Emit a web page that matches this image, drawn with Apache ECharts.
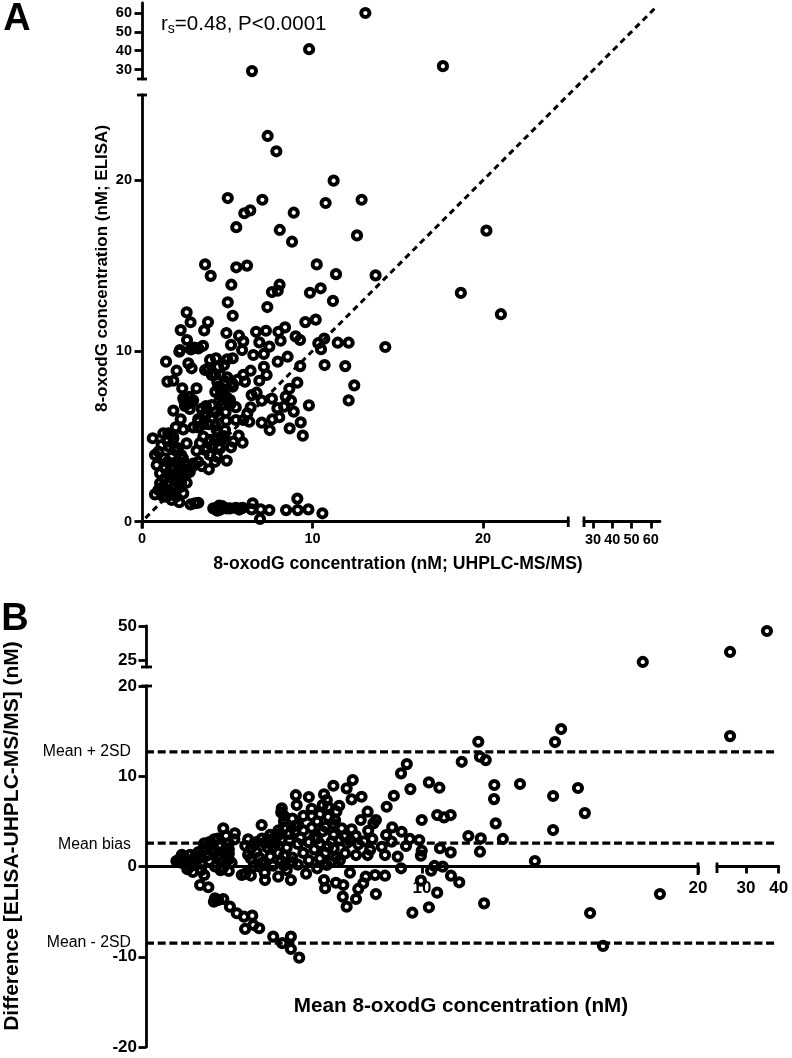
<!DOCTYPE html>
<html><head><meta charset="utf-8">
<style>html,body{margin:0;padding:0;background:#fff}#c{width:792px;height:1058px}</style>
<script src="https://cdn.jsdelivr.net/npm/echarts@6/dist/echarts.min.js"></script>
</head><body><div id="c"></div>
<script>
// Panel A: [UHPLC-MS/MS, ELISA] in nM
const pointsA = [
[7.37,22.6],[7.88,21.7],[11.24,19.98],[5.03,18.96],[7.06,18.86],[12.88,18.86],[10.77,18.67],[6.35,18.24],[6.0,18.07],[8.9,18.1],[5.53,17.25],[8.08,17.09],[12.61,16.77],[8.8,16.4],[3.7,15.07],[4.03,14.4],[5.53,14.9],[6.16,15.0],[10.25,15.07],[11.38,14.5],[13.7,14.43],[5.24,13.88],[8.07,13.88],[7.62,13.45],[7.96,13.53],[9.85,13.41],[10.48,13.67],[11.2,12.93],[5.03,12.85],[7.35,12.57],[5.32,12.06],[2.62,12.26],[2.85,11.68],[3.87,11.69],[2.27,11.22],[3.65,11.2],[4.95,11.05],[9.58,11.69],[10.19,11.83],[6.69,11.12],[7.27,11.18],[8.0,11.12],[8.39,11.38],[5.69,10.89],[2.64,10.64],[9.01,10.85],[9.27,10.64],[10.69,10.72],[11.48,10.48],[12.12,10.48],[14.27,10.23],[5.94,10.56],[6.88,10.5],[8.13,10.6],[3.58,10.3],[3.07,10.19],[2.23,10.05],[5.22,10.35],[7.47,10.25],[10.34,10.45],[10.5,10.1],
[5.87,10.05],[5.32,9.57],[6.53,9.76],[7.15,9.82],[7.96,9.37],[8.54,9.66],[9.28,9.11],[10.71,9.17],[11.92,9.11],[12.45,7.98],[12.12,7.1],[7.15,9.07],[6.37,8.84],[7.31,8.59],[4.81,9.17],[5.0,8.45],[5.94,8.59],[6.88,8.25],[9.11,8.14],[8.64,7.78],[5.32,7.9],[6.04,8.2],[6.43,7.41],[6.72,7.55],[7.02,7.08],[7.62,7.2],[8.43,7.32],[8.74,7.08],[5.16,7.12],[9.79,6.81],[7.94,6.64],[8.33,6.73],[8.9,6.44],[6.37,6.69],[6.18,6.34],[8.05,6.11],[7.64,5.99],[7.02,5.79],[9.31,5.81],[8.66,5.46],[7.49,5.36],[9.43,5.03],[6.29,5.85],[5.51,5.95],[4.93,5.91],[5.94,5.95],[5.67,5.03],[5.9,4.62],[5.22,4.35],[4.97,3.57],[5.35,4.68],[4.87,5.36],[4.67,4.78],
[5.16,0.77],[5.79,0.77],[6.49,1.07],[6.43,0.71],[6.96,0.71],[7.47,0.67],[6.92,0.15],[8.45,0.67],[9.11,1.34],[9.13,0.67],[9.76,0.71],[10.58,0.48],[3.11,1.07],[2.85,1.0],[3.3,1.1],[4.18,0.77],[4.53,0.93],[4.42,0.63],[4.97,0.77],[4.7,0.9],[4.3,0.75],[4.6,0.7],[4.8,0.8],[5.9,0.8],[5.7,0.7],[5.5,0.8],
[0.63,4.88],[1.41,9.37],[2.19,9.95],[2.87,10.09],[3.3,10.15],[2.72,9.27],[2.91,8.98],[2.03,8.84],[1.49,8.2],[1.84,8.25],[2.36,7.81],[3.2,7.81],[2.42,7.22],[2.72,6.93],[2.91,6.96],[2.52,6.77],[1.84,6.5],[2.27,5.99],[1.98,5.52],[2.42,5.4],[3.75,6.77],[4.09,6.83],[4.67,6.83],[4.97,7.28],[3.89,8.98],[3.99,9.47],[4.34,9.57],[3.7,8.88],[4.09,8.59],[4.47,9.07],[4.41,8.2],[4.67,7.71],[3.6,6.24],[3.3,5.85],[3.01,5.52],[3.3,5.52],[2.62,4.58],[3.2,4.15],[3.7,4.19],[3.99,4.78],[3.6,4.97],[4.38,5.36],[4.28,4.78],[4.67,4.78],[4.57,4.29],[3.99,3.9],[4.28,3.5],[3.5,3.25],[3.92,3.06],
[0.76,3.9],[0.96,4.09],[1.25,5.17],[1.54,5.17],[1.84,4.88],[1.15,4.48],[1.6,4.38],[0.86,3.31],[1.35,3.12],[1.06,2.83],[1.74,3.8],[2.03,3.5],[2.42,3.12],[2.91,3.18],[2.62,2.27],[2.42,1.65],[2.19,1.13],[1.74,1.26],[1.25,1.45],[0.76,1.59],[1.06,2.24],[1.54,2.24],[1.94,2.04],[2.23,2.63],[1.35,2.53],[1.74,2.73],[0.96,1.85],[1.45,1.45],[1.84,1.65],[2.0,1.45],[4.47,7.9],[4.3,7.6],[2.6,3.3],[2.3,3.9],[2.1,4.3],
[1.2,2.0],[1.5,2.8],[1.9,2.4],[2.2,2.0],[1.4,1.9],[1.7,3.2],[1.9,3.1],[2.2,3.3],[2.5,2.9],[2.8,2.9],[1.3,3.7],[1.5,3.5],[1.9,4.2],[2.4,3.7],[1.3,1.8],[1.6,1.7],[2.0,2.6],[2.3,2.3],[1.8,5.1],[1.5,4.7],[3.0,3.4],[3.3,3.5],
[2.6,7.1],[2.8,7.3],[2.5,7.0],[2.8,6.6],[3.0,7.1],[3.6,5.7],[3.3,6.0],[3.8,6.3],[4.1,6.1],[3.9,5.7],[4.3,6.4],[3.5,6.6],[4.5,6.2],[4.3,5.6],[4.5,4.4],[4.1,4.4],[3.8,4.3],[3.4,4.6],[4.8,5.0],[4.4,3.8],[4.6,8.6],[4.9,8.2],[4.3,8.6],[5.0,9.5],[4.8,7.5],[4.6,7.4],[4.5,7.0],[4.9,6.4],[5.2,6.9],[5.5,6.7],[5.6,8.3],[5.3,8.1],
[18.7,13.4],[20.2,17.05],[21.05,12.15]
];
const pointsAUpper = [[6.45,29.2],[9.8,40.8],[13.1,60],[17.65,31.8]];
const identityA = [[0.2,0.2],[30.2,30.2]];
const ticksAY = [0,10,20], ticksAYUpper = [30,40,50,60], ticksAX = [0,10,20], ticksAXRight = [30,40,50,60];

// Panel B: [mean, difference] in nM
const pointsB = [
[12.04,13.82],[11.44,11.6],[12.1,12.16],[12.31,11.79],[9.45,11.35],[9.24,10.32],[10.25,9.32],[10.63,8.73],[9.58,8.58],[12.62,9.03],[12.61,7.47],[12.67,4.78],[7.49,9.58],[6.79,8.95],[7.27,8.66],[7.81,7.73],[7.45,7.44],[8.98,7.84],[8.72,6.62],[7.0,6.73],[6.55,7.36],[8.03,6.07],[10.55,5.7],[10.8,5.45],[11.04,5.7],[9.99,5.15],[7.78,5.15],[8.33,5.15],[8.24,4.78],[6.85,5.15],[7.45,4.12],[8.05,3.96],[8.92,4.34],[9.26,3.85],[7.09,4.23],[8.7,3.49],[8.2,3.05],[8.9,2.75],[9.56,3.05],[9.9,2.93],[11.68,3.38],[12.13,3.12],[9.42,2.27],[10.65,2.02],[11.04,1.57],[12.1,1.64],[9.99,1.75],[9.96,1.2],[9.12,1.09],[8.66,1.27],[8.03,1.27],[7.61,1.27],[7.27,2.57],[7.69,2.46],[8.12,1.83],[8.54,2.19],[6.73,2.75],[7.03,0.72],[7.21,1.46],[6.55,0.17],[9.24,-0.2],[10.45,0.06],[10.75,-0.02],[10.33,-0.46],[11.05,-1.02],[11.35,-1.75],[7.39,-0.69],[8.66,-1.02],[8.3,-0.94],[7.96,-1.13],[7.87,-1.86],[6.45,-1.5],[6.88,-1.8],[6.49,-2.41],[7.15,-2.05],[7.69,-2.49],[7.13,-3.34],[7.61,-3.6],[7.27,-4.45],[8.33,-3.05],[9.96,-1.57],[10.55,-2.9],[10.25,-4.52],[9.65,-5.12],[12.25,-4.08],
[15.04,15.23],[14.82,13.79],[13.55,9.14],[15.65,8.7],[14.75,7.81],[15.9,5.92],[14.75,4.04],[12.93,3.05],[14.09,0.61],[16.09,-5.15],[16.56,-8.8],[18.62,-3.05],
[5.55,-10.1],[5.25,-9.14],[5.25,-7.77],[4.94,-8.5],[4.61,-7.77],[4.1,-6.84],[3.59,-6.92],[3.85,-5.45],[3.89,-6.48],[3.55,-5.56],[3.29,-5.18],[3.04,-4.45],[2.8,-3.6],[2.5,-3.52],[2.62,-3.71],[2.26,-2.3],[1.96,-2.05],[2.11,-0.94],[2.46,-3.9],
[2.8,4.23],[4.19,4.6],[5.52,4.6],[2.47,3.01],[4.92,6.44],[5.46,6.81],[4.31,-1.5],[5.25,-1.5],[4.79,-1.13],[3.47,-0.94],[1.23,0.72],[2.11,2.57],[3.22,3.68],
[1.1,0.6],[1.2,0.8],[1.3,0.4],[1.4,1.0],[1.5,0.5],[1.6,1.3],[1.7,0.2],[1.5,-0.3],[1.7,-0.6],[1.9,0.9],[1.9,1.6],[2.0,0.3],[2.0,-0.4],[2.1,2.1],[2.2,1.2],[2.3,0.6],[2.3,2.7],[2.5,1.7],[2.5,0.0],[2.6,3.1],[2.7,2.4],[2.7,0.9],[2.8,-0.1],[2.9,3.4],[3.0,2.6],[3.0,1.4],[3.1,0.4],[3.2,3.0],[3.0,1.9],[3.0,-0.5],[3.6,2.3],[3.7,3.0],[3.8,2.0],[3.8,0.9],[3.9,0.0],[4.0,2.7],[4.0,1.6],[4.2,3.1],[4.2,0.4],[4.3,-0.7],[4.4,2.1],[4.5,3.5],[4.5,1.1],[4.6,0.1],[4.7,2.6],[4.8,4.0],[4.8,1.5],[4.9,0.6],[4.9,3.0],[5.0,5.0],[5.1,2.1],[5.1,-0.4],[5.2,3.6],[5.3,1.0],[5.4,4.5],[5.5,2.5],[5.5,0.2],[5.6,3.2],[5.7,5.6],[5.7,1.5],[5.8,-0.8],[5.9,2.7],[5.9,0.7],[6.0,4.3],[6.0,6.4],[6.1,3.3],[6.1,1.9],[6.2,5.0],[6.2,-0.2],[6.3,2.5],[6.3,0.9],[6.4,6.8],[6.4,3.9],[6.5,1.5],[6.6,5.5],[6.6,2.2],[6.7,0.5],[6.8,3.5],[6.9,1.0],[6.9,6.1],[5.43,7.9],[5.9,7.7],[6.45,8.0],
[1.3,1.3],[1.6,0.0],[1.8,1.2],[2.2,1.9],[2.4,2.3],[2.6,1.2],[2.9,2.0],[3.0,0.8],[2.7,-0.4],[3.7,1.3],[3.9,2.5],[4.1,1.0],[4.3,2.6],[4.1,0.0],[4.6,2.2],[4.4,3.0],[4.7,3.4],[5.0,1.2],[5.2,2.9],[5.0,0.1],[5.3,0.5],[5.4,3.9],[5.0,4.3],[5.7,4.0],[6.0,5.6],[5.3,5.3],[5.0,5.6],[4.8,3.5],[4.9,6.0],[6.3,5.8],[6.2,3.1],[6.5,4.4],[6.8,2.0],[7.0,2.9],[6.6,6.6],[6.8,4.7],[7.2,3.3],[7.4,2.9],[7.6,3.4],[7.9,2.8],[3.8,-1.0],[3.6,-0.8],[2.0,1.0]
];
const pointsBUpper = [[18.0,24.1]];
const pointsBRight = [[25.1,14.45]];
const pointsBRightUpper = [[25.1,31.3],[36.4,46.4]];
const meanPlus2SD = 12.7, meanBias = 2.6, meanMinus2SD = -8.5;
const meanLineExtent = [0,22.79];
const ticksBY = [-20,-10,0,10,20], ticksBYUpper = [25,50], ticksBX = [10,20], ticksBXRight = [30,40];

const F = '"Liberation Sans", Arial, sans-serif';
const INK = '#000';
function grid(x0,x1,y0,y1){return {left:x0,top:y0,width:x1-x0,height:y1-y0,containLabel:false,outerBoundsMode:'none'};}
function axisX(idx,min,max,ticks,fs,show,margin,offset){
  return {type:'value',gridIndex:idx,min,max,show,position:'bottom',offset:offset||0,splitLine:{show:false},
    axisLine:{show:true,onZero:false,lineStyle:{color:INK,width:2.8}},
    axisTick:{show:true,length:7,customValues:ticks,lineStyle:{color:INK,width:2.8}},
    axisLabel:{show:true,customValues:ticks,margin:margin||10,color:INK,fontFamily:F,fontWeight:'bold',fontSize:fs}};
}
function axisY(idx,min,max,ticks,fs,show,margin){
  return {type:'value',gridIndex:idx,min,max,show,splitLine:{show:false},
    axisLine:{show:true,onZero:false,lineStyle:{color:INK,width:2.8}},
    axisTick:{show:true,length:7.5,customValues:ticks,lineStyle:{color:INK,width:2.8}},
    axisLabel:{show:true,customValues:ticks,margin:margin||10,color:INK,fontFamily:F,fontWeight:'bold',fontSize:fs}};
}
function scatter(i,data){return {type:'scatter',xAxisIndex:i,yAxisIndex:i,data,clip:false,symbol:'circle',symbolSize:8.2,
  itemStyle:{color:'rgba(0,0,0,0)',borderColor:INK,borderWidth:4,opacity:1},animation:false};}
function dashed(i,data,dash,w){return {type:'line',xAxisIndex:i,yAxisIndex:i,data,clip:false,symbol:'none',
  lineStyle:{color:INK,width:w,type:dash},animation:false,silent:true};}
function seg(x1,y1,x2,y2){return {type:'line',shape:{x1,y1,x2,y2},style:{stroke:INK,lineWidth:2.8}};}
function txt(x,y,text,size,weight,rot,align){return {type:'text',x,y,rotation:rot||0,
  style:{text,fill:INK,font:(weight||'normal')+' '+size+'px '+F,align:align||'center',verticalAlign:'middle'}};}
const zeroOffset = -180.5;

const option = {
  backgroundColor:'#fff',animation:false,
  grid:[
    grid(142,568.25,95,521.5), grid(142,568.25,3,79), grid(584,660,3,79), grid(584,660,95,521.5),
    grid(146,698,686,1047), grid(146,698,626,667), grid(717,778.7,686,1047), grid(717,778.7,626,667),
    grid(142,660,3,521.5), grid(146,775,686,1047)
  ],
  xAxis:[
    axisX(0,0,25,ticksAX,14.5,true,9.5), axisX(1,0,25,[],14,false), axisX(2,25.3,64.8,[],14,false), axisX(3,25.3,64.8,ticksAXRight,14.5,true,11),
    axisX(4,0,20,ticksBX,17,true,13,zeroOffset), axisX(5,0,20,[],14,false), axisX(6,21.1,40,ticksBXRight,17,true,13,zeroOffset), axisX(7,21.1,40,[],14,false),
    axisX(8,0,30.38,[],14,false), axisX(9,0,22.79,[],14,false)
  ],
  yAxis:[
    axisY(0,0,25,ticksAY,14.5,true), axisY(1,25,65.3,ticksAYUpper,14.5,true), axisY(2,25,65.3,[],14,false), axisY(3,0,25,[],14,false),
    axisY(4,-20,20,ticksBY,17,true,9), axisY(5,20.47,50,ticksBYUpper,17,true,9), axisY(6,-20,20,[],14,false), axisY(7,20.47,50,[],14,false),
    axisY(8,0,30.39,[],14,false), axisY(9,-20,20,[],14,false)
  ],
  series:[
    dashed(8,identityA,[6,4.5],3),
    scatter(0,pointsA), scatter(1,pointsAUpper),
    dashed(9,meanLineExtent.map(x=>[x,meanPlus2SD]),[8,3.7],3.2),
    dashed(9,meanLineExtent.map(x=>[x,meanBias]),[8,3.7],3.2),
    dashed(9,meanLineExtent.map(x=>[x,meanMinus2SD]),[8,3.7],3.2),
    scatter(4,pointsB), scatter(5,pointsBUpper), scatter(6,pointsBRight), scatter(7,pointsBRightUpper)
  ],
  graphic:{elements:[
    seg(137,79,147,79), seg(137,95,147,95), seg(142,521.5,142,528.5),
    seg(568.25,516.5,568.25,527), seg(584,516.5,584,527),
    seg(141,667,152,667), seg(141,686,152,686),
    seg(698,862.5,698,875), seg(717,862.5,717,873),
    txt(17,20,'A',38,'bold'), txt(15,620,'B',38,'bold'),
    {type:'text',x:161,y:25,style:{text:'{a|r}{b|s}{a|=0.48, P<0.0001}',fill:INK,verticalAlign:'middle',align:'left',
      rich:{a:{fontFamily:F,fontSize:20.5,fill:INK,color:INK,verticalAlign:'top',lineHeight:22},b:{fontFamily:F,fontSize:14,fill:INK,color:INK,verticalAlign:'bottom',lineHeight:14,padding:[10,0,0,0]}}}},
    txt(102,268.5,'8-oxodG concentration (nM; ELISA)',17,'bold',Math.PI/2),
    txt(398,564,'8-oxodG concentration (nM; UHPLC-MS/MS)',17.6,'bold'),
    txt(12,836,'Difference [ELISA-UHPLC-MS/MS] (nM)',21,'bold',Math.PI/2),
    txt(461,1006,'Mean 8-oxodG concentration (nM)',20.7,'bold'),
    txt(131,752,'Mean + 2SD',15.8,'normal',0,'right'),
    txt(131,845,'Mean bias',15.8,'normal',0,'right'),
    txt(131,943,'Mean - 2SD',15.8,'normal',0,'right')
  ]}
};
echarts.init(document.getElementById('c'),null,{renderer:'canvas'}).setOption(option);
</script></body></html>
